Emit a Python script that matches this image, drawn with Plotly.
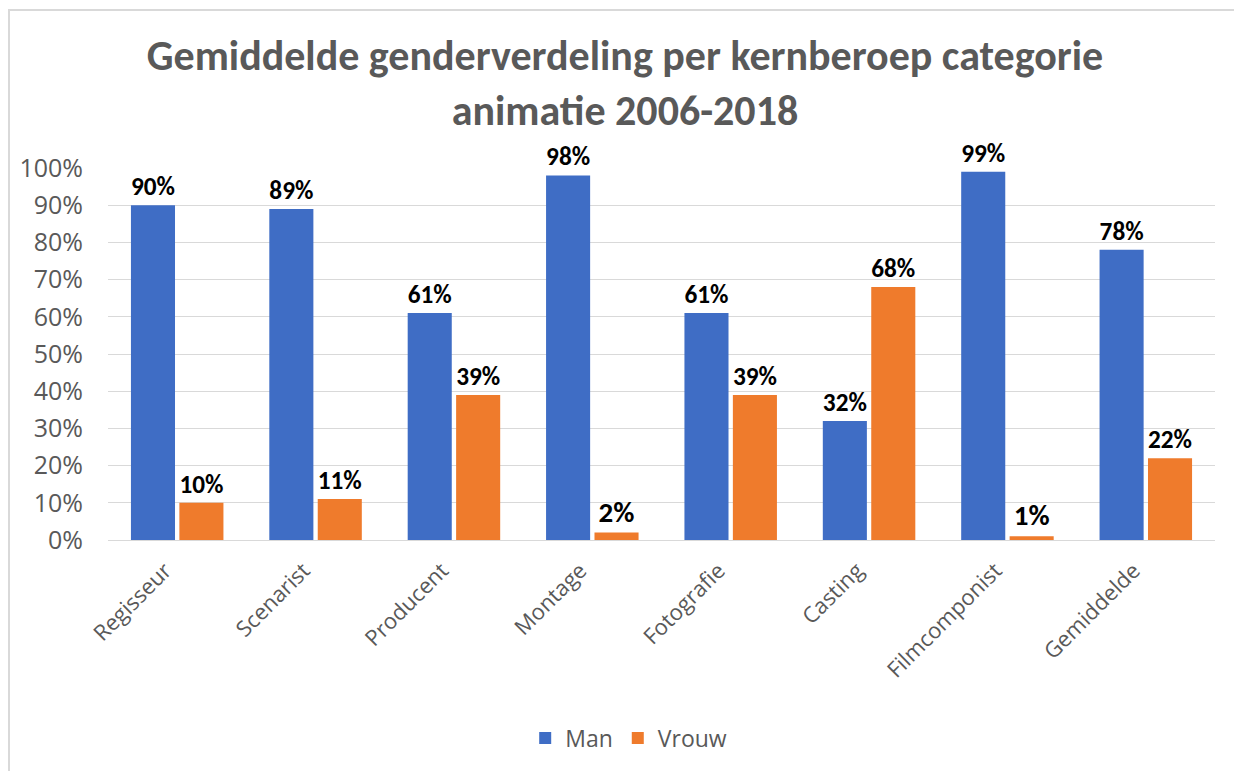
import plotly.graph_objects as go

categories = ["Regisseur", "Scenarist", "Producent", "Montage", "Fotografie", "Casting", "Filmcomponist", "Gemiddelde"]
man = [0.90, 0.89, 0.61, 0.98, 0.61, 0.32, 0.99, 0.78]
vrouw = [0.10, 0.11, 0.39, 0.02, 0.39, 0.68, 0.01, 0.22]
series_names = ["Man", "Vrouw"]
tick_vals = [i / 10 for i in range(11)]
tick_text = [f"{i*10}%" for i in range(11)]

# page has an 8px body margin; size the figure so it fits the window
W, H = 1234, 763
L, R, T, B = 100, 27, 160, 231

fig = go.Figure()
for name, vals, col in [(series_names[0], man, "#3F6DC5"), (series_names[1], vrouw, "#EF7B2C")]:
    fig.add_trace(go.Bar(
        x=categories, y=vals, name=name,
        marker=dict(color=col, line=dict(width=0)),
        text=[f"{round(v*100)}%" for v in vals],
        textposition="outside",
        textfont=dict(family="Carlito, Calibri, Open Sans, sans-serif", size=29, color="#000000", weight="bold"),
        cliponaxis=False,
    ))

def px_x(p):
    return (p - L) / (W - L - R)

def px_y(p):
    return (H - B - p) / (H - T - B)

fig.update_layout(
    width=W, height=H,
    margin=dict(l=L, r=R, t=T, b=B, autoexpand=False),
    paper_bgcolor="white", plot_bgcolor="white",
    barmode="group", bargap=0.3, bargroupgap=0.09,
    title=dict(
        text="Gemiddelde genderverdeling per kernberoep categorie<br>animatie 2006-2018",
        x=0.5, xref="container", y=1 - 62 / H, yref="container", yanchor="top",
        font=dict(family="Carlito, Calibri, Open Sans, sans-serif", size=42, color="#595959", weight="bold"),
    ),
    font=dict(family="Open Sans, sans-serif", color="#595959"),
    xaxis=dict(tickangle=-45, tickfont=dict(size=22, color="#595959"), showgrid=False,
               showline=True, linecolor="#D9D9D9", linewidth=1, ticks="", automargin=False,
               ticklabelshift=-12, ticklabelstandoff=8),
    yaxis=dict(range=[0, 1], tickvals=tick_vals, ticktext=tick_text,
               tickfont=dict(size=25, color="#595959"), showgrid=True, gridcolor="#D9D9D9",
               gridwidth=1, zeroline=False, ticks="", ticklabelstandoff=24, automargin=False),
    legend=dict(orientation="h", xref="container", x=0.503, xanchor="center",
                yref="container", y=1 - 730 / H, yanchor="middle",
                font=dict(size=23, color="#595959"), itemwidth=30),
    showlegend=True,
    shapes=[
        dict(type="line", xref="paper", yref="paper", x0=px_x(0), x1=px_x(W), y0=px_y(2), y1=px_y(2),
             line=dict(color="#D9D9D9", width=2)),
        dict(type="line", xref="paper", yref="paper", x0=px_x(1), x1=px_x(1), y0=px_y(2), y1=px_y(H),
             line=dict(color="#D9D9D9", width=2)),
    ],
)

fig.write_html("out.html")
